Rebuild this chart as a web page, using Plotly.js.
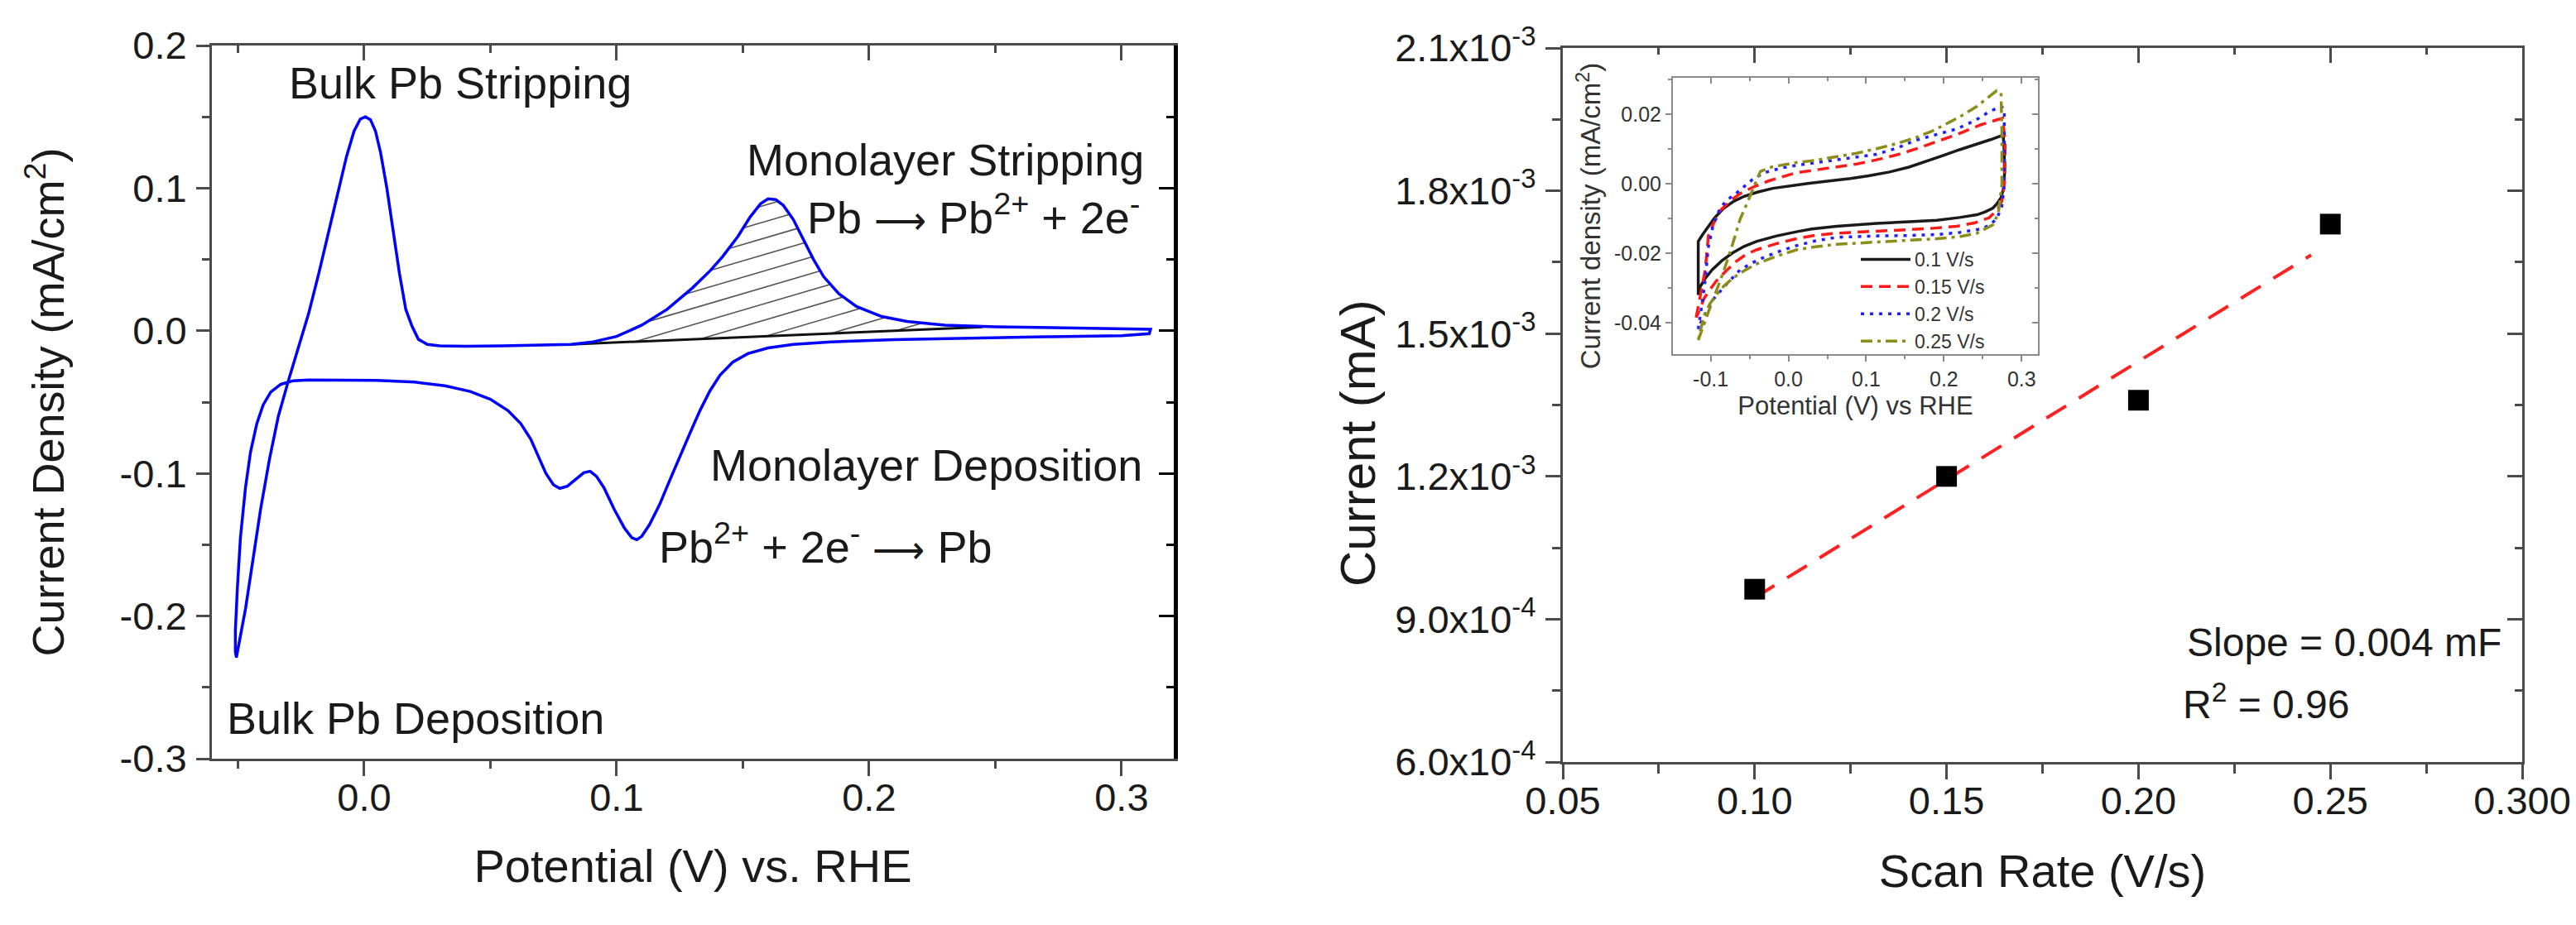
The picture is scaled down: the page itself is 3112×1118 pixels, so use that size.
<!DOCTYPE html>
<html><head><meta charset="utf-8">
<script src="https://cdn.plot.ly/plotly-3.0.1.min.js"></script>
<style>html,body{margin:0;padding:0;background:#fff}#chart{width:3112px;height:1118px}</style>
</head><body><div id="chart"></div><script>
const FONT = 'Liberation Sans, Arial, Helvetica, sans-serif';

// ---------- Left panel: CV of Pb UPD ----------
const cvPotential = [-0.0506,-0.0490,-0.0470,-0.0440,-0.0410,-0.0375,-0.0340,-0.0300,-0.0260,-0.0220,-0.0180,-0.0140,-0.0100,-0.0070,-0.0040,-0.0015,0.0005,0.0025,0.0045,0.0065,0.0090,0.0115,0.0140,0.0165,0.0190,0.0215,0.0250,0.0300,0.0400,0.0550,0.0700,0.0820,0.0900,0.1000,0.1100,0.1200,0.1300,0.1370,0.1420,0.1480,0.1530,0.1570,0.1600,0.1630,0.1660,0.1700,0.1740,0.1780,0.1820,0.1880,0.1950,0.2050,0.2150,0.2300,0.2500,0.2800,0.3000,0.3115,0.3110,0.3000,0.2700,0.2400,0.2100,0.1850,0.1700,0.1600,0.1520,0.1460,0.1410,0.1370,0.1330,0.1290,0.1250,0.1210,0.1170,0.1130,0.1100,0.1080,0.1060,0.1030,0.0990,0.0950,0.0920,0.0895,0.0870,0.0840,0.0805,0.0775,0.0750,0.0720,0.0690,0.0660,0.0620,0.0570,0.0500,0.0420,0.0320,0.0200,0.0050,-0.0100,-0.0220,-0.0280,-0.0330,-0.0370,-0.0400,-0.0425,-0.0450,-0.0470,-0.0490,-0.0502,-0.0510,-0.0510,-0.0506];
const cvCurrent = [-0.229,-0.215,-0.195,-0.160,-0.125,-0.090,-0.060,-0.035,-0.012,0.012,0.040,0.070,0.100,0.122,0.140,0.1485,0.150,0.148,0.140,0.125,0.100,0.070,0.040,0.015,0.003,-0.006,-0.0095,-0.0105,-0.0108,-0.0106,-0.0102,-0.0095,-0.0080,-0.0040,0.0040,0.0150,0.0300,0.0420,0.0520,0.0660,0.0800,0.0890,0.0925,0.0920,0.0880,0.0780,0.0640,0.0500,0.0380,0.0260,0.0170,0.0100,0.0065,0.0040,0.0028,0.0020,0.0018,0.0010,-0.0020,-0.0035,-0.0042,-0.0050,-0.0062,-0.0078,-0.0095,-0.0120,-0.0160,-0.0220,-0.0310,-0.0420,-0.0560,-0.0720,-0.0880,-0.1050,-0.1220,-0.1360,-0.1440,-0.1465,-0.1450,-0.1380,-0.1250,-0.1100,-0.1020,-0.0985,-0.0995,-0.1040,-0.1090,-0.1105,-0.1080,-0.1000,-0.0880,-0.0760,-0.0650,-0.0560,-0.0480,-0.0425,-0.0385,-0.0360,-0.0348,-0.0345,-0.0345,-0.0350,-0.0375,-0.0430,-0.0520,-0.0650,-0.0850,-0.1100,-0.1450,-0.1800,-0.2100,-0.2250,-0.229];
const baselinePotential = [0.082, 0.245];
const baselineCurrent = [-0.0095, 0.0026];

// ---------- Right panel: current vs scan rate ----------
const scanRates = [0.10, 0.15, 0.20, 0.25];
const currents = [9.63e-4, 1.20e-3, 1.36e-3, 1.73e-3];
const fitScanRates = [0.10, 0.245];
const fitCurrents = [9.45e-4, 1.665e-3];

// ---------- Inset: CVs at several scan rates ----------
const insetNames = ['0.1 V/s', '0.15 V/s', '0.2 V/s', '0.25 V/s'];
const cv010X = [-0.116,-0.116,-0.110,-0.103,-0.095,-0.083,-0.070,-0.057,-0.040,-0.020,0.000,0.025,0.052,0.080,0.103,0.130,0.155,0.180,0.200,0.220,0.243,0.260,0.2735,0.2765,0.2777,0.2780,0.2765,0.2735,0.268,0.263,0.253,0.2426,0.220,0.191,0.150,0.1135,0.062,0.030,0.0103,-0.015,-0.0413,-0.057,-0.072,-0.086,-0.098,-0.107,-0.1135,-0.116];
const cv010Y = [-0.032,-0.0166,-0.0145,-0.0122,-0.0098,-0.0070,-0.0050,-0.0036,-0.0024,-0.0013,-0.0006,0.0001,0.0008,0.0015,0.0023,0.0034,0.0048,0.0066,0.0082,0.0098,0.0114,0.0127,0.0138,0.0133,0.0090,0.0028,-0.0015,-0.0040,-0.0058,-0.0070,-0.0081,-0.0089,-0.0097,-0.0105,-0.0110,-0.0114,-0.0122,-0.0130,-0.0138,-0.0150,-0.0166,-0.0180,-0.0199,-0.0222,-0.0247,-0.0272,-0.0296,-0.032];
const cv015X = [-0.1187,-0.1135,-0.107,-0.103,-0.0955,-0.0877,-0.075,-0.062,-0.044,-0.0258,-0.0077,0.0103,0.036,0.062,0.0877,0.1135,0.139,0.165,0.191,0.2168,0.2477,0.268,0.2757,0.2787,0.2787,0.2777,0.2745,0.268,0.258,0.240,0.2168,0.180,0.139,0.100,0.062,0.035,0.0103,-0.015,-0.0413,-0.055,-0.067,-0.080,-0.093,-0.101,-0.108,-0.113,-0.116,-0.1187];
const cv015Y = [-0.0385,-0.0328,-0.0247,-0.0150,-0.0110,-0.0077,-0.0049,-0.0028,-0.0008,0.0008,0.0020,0.0032,0.0040,0.0049,0.0057,0.0069,0.0083,0.0101,0.0122,0.0142,0.0170,0.0184,0.0189,0.0120,0.0060,0.0000,-0.0050,-0.0077,-0.0098,-0.0112,-0.0122,-0.0129,-0.0134,-0.0138,-0.0142,-0.0148,-0.0158,-0.0172,-0.0190,-0.0204,-0.0223,-0.0250,-0.0280,-0.0305,-0.0328,-0.0355,-0.0369,-0.0385];
const cv020X = [-0.116,-0.112,-0.108,-0.1055,-0.103,-0.097,-0.0877,-0.078,-0.067,-0.0465,-0.031,-0.010,0.0103,0.036,0.062,0.0877,0.1135,0.140,0.165,0.191,0.2168,0.240,0.258,0.2735,0.2777,0.2777,0.2780,0.2777,0.2745,0.268,0.258,0.2477,0.220,0.191,0.150,0.1135,0.062,0.035,0.0103,-0.010,-0.031,-0.047,-0.062,-0.0826,-0.098,-0.108,-0.113,-0.116];
const cv020Y = [-0.0418,-0.0360,-0.0296,-0.0240,-0.0182,-0.0120,-0.0069,-0.0045,-0.0027,0.0012,0.0032,0.0045,0.0053,0.0061,0.0069,0.0076,0.0085,0.0103,0.0126,0.0142,0.0158,0.0182,0.0207,0.0223,0.0215,0.0150,0.0060,-0.0004,-0.0065,-0.0101,-0.0120,-0.0130,-0.0140,-0.0146,-0.0149,-0.0150,-0.0154,-0.0164,-0.0178,-0.0193,-0.0211,-0.0228,-0.0247,-0.0296,-0.0336,-0.0377,-0.0400,-0.0418];
const cv025X = [-0.116,-0.110,-0.103,-0.093,-0.0826,-0.072,-0.062,-0.054,-0.0465,-0.040,-0.036,-0.0206,0.0103,0.036,0.062,0.0877,0.1135,0.140,0.165,0.185,0.201,0.220,0.2426,0.258,0.268,0.2735,0.2746,0.2746,0.2746,0.270,0.263,0.2426,0.220,0.191,0.150,0.1135,0.062,0.035,0.0103,-0.015,-0.0413,-0.057,-0.072,-0.083,-0.093,-0.101,-0.108,-0.113,-0.116];
const cv025Y = [-0.0450,-0.0410,-0.0369,-0.0310,-0.0247,-0.0175,-0.0101,-0.0060,-0.0020,0.0015,0.0036,0.0049,0.0061,0.0068,0.0077,0.0088,0.0101,0.0116,0.0134,0.0152,0.0170,0.0192,0.0223,0.0250,0.0268,0.0262,0.0150,0.0050,-0.0004,-0.0085,-0.0118,-0.0142,-0.0152,-0.0158,-0.0163,-0.0166,-0.0174,-0.0181,-0.0190,-0.0208,-0.0231,-0.0250,-0.0272,-0.0294,-0.0320,-0.0345,-0.0377,-0.0420,-0.0450];

// ---------- Tick values / labels ----------
const leftXTicks = [0.0, 0.1, 0.2, 0.3];
const leftXTickText = ['0.0', '0.1', '0.2', '0.3'];
const leftXMinor = [-0.05, 0.05, 0.15, 0.25];
const leftYTicks = [-0.3, -0.2, -0.1, 0.0, 0.1, 0.2];
const leftYTickText = ['-0.3', '-0.2', '-0.1', '0.0', '0.1', '0.2'];
const leftYMinor = [-0.25, -0.15, -0.05, 0.05, 0.15];
const rightXTicks = [0.05, 0.10, 0.15, 0.20, 0.25, 0.30];
const rightXTickText = ['0.05', '0.10', '0.15', '0.20', '0.25', '0.300'];
const rightXMinor = [0.075, 0.125, 0.175, 0.225, 0.275];
const rightYTicks = [6.0e-4, 9.0e-4, 1.2e-3, 1.5e-3, 1.8e-3, 2.1e-3];
const rightYTickText = ['6.0x10<sup>-4</sup>', '9.0x10<sup>-4</sup>', '1.2x10<sup>-3</sup>', '1.5x10<sup>-3</sup>', '1.8x10<sup>-3</sup>', '2.1x10<sup>-3</sup>'];
const rightYMinor = [7.5e-4, 1.05e-3, 1.35e-3, 1.65e-3, 1.95e-3];
const insetXTicks = [-0.1, 0.0, 0.1, 0.2, 0.3];
const insetXTickText = ['-0.1', '0.0', '0.1', '0.2', '0.3'];
const insetXMinor = [-0.15, -0.05, 0.05, 0.15, 0.25];
const insetYTicks = [-0.04, -0.02, 0.00, 0.02];
const insetYTickText = ['-0.04', '-0.02', '0.00', '0.02'];
const insetYMinor = [-0.03, -0.01, 0.01, 0.03];

// ---------- Hatching of the monolayer stripping charge (derived from the curves) ----------
function buildHatch() {
  const peakIdx = cvCurrent.indexOf(Math.max(...cvCurrent));
  const vertexIdx = cvPotential.indexOf(Math.max(...cvPotential));
  const ux = [], uy = [];
  for (let i = peakIdx; i <= vertexIdx; i++) {
    if (cvPotential[i] >= 0.07) { ux.push(cvPotential[i]); uy.push(cvCurrent[i]); }
  }
  const upper = x => {
    for (let i = 0; i < ux.length - 1; i++) {
      if (x >= ux[i] && x <= ux[i + 1]) return uy[i] + (uy[i + 1] - uy[i]) * (x - ux[i]) / (ux[i + 1] - ux[i]);
    }
    return NaN;
  };
  const x0 = baselinePotential[0], x1 = baselinePotential[1];
  const base = x => baselineCurrent[0] + (baselineCurrent[1] - baselineCurrent[0]) * (x - x0) / (x1 - x0);
  const slope = 0.52, gap = 0.0115;
  const hx = [], hy = [];
  for (let c = -0.121; c < 0.02; c += gap) {
    let start = null, last = null;
    for (let x = x0; x <= x1 + 1e-9; x += 0.0002) {
      const y = slope * x + c;
      const inside = y >= base(x) && y <= upper(x);
      if (inside) { if (start === null) start = x; last = x; }
      if ((!inside || x + 0.0002 > x1) && start !== null) {
        hx.push(start, last, null); hy.push(slope * start + c, slope * last + c, null);
        start = null;
      }
    }
  }
  return { x: hx, y: hy };
}
const hatch = buildHatch();

// ---------- Styles ----------
const AX = '#4a4a4a';
const IN = '#8a8a8a';
const tickFont = { family: FONT, size: 47, color: '#1a1a1a' };
const insetTickFont = { family: FONT, size: 25, color: '#333' };

const leftDomX = [256 / 3112, 1418 / 3112], leftDomY = [1 - 917 / 1118, 1 - 55 / 1118];
const rightDomX = [1888 / 3112, 3047 / 3112], rightDomY = [1 - 921 / 1118, 1 - 58 / 1118];
const insetDomX = [2021 / 3112, 2462 / 3112], insetDomY = [1 - 428 / 1118, 1 - 94 / 1118];
const leftRX = [-0.0603, 0.3207], leftRY = [-0.3, 0.2];
const rightRX = [0.05, 0.30], rightRY = [6.0e-4, 2.1e-3];
const insetRX = [-0.1486, 0.321], insetRY = [-0.049, 0.0305];

function mainAxis(o) {
  return Object.assign({
    showline: true, linecolor: AX, linewidth: 3, mirror: false,
    ticks: 'outside', ticklen: 18, tickwidth: 3, tickcolor: AX,
    tickmode: 'array', tickfont: tickFont, showgrid: false, zeroline: false,
    ticklabelstandoff: 2, fixedrange: true
  }, o);
}
function mirrorAxis(o, minorVals, len, mlen, color, width) {
  return Object.assign({
    showline: true, linecolor: color, linewidth: width,
    ticks: 'inside', ticklen: len, tickwidth: width >= 3 ? 3 : 2, tickcolor: color,
    tickmode: 'array', showticklabels: false, showgrid: false, zeroline: false, fixedrange: true,
    minor: { tickmode: 'array', tickvals: minorVals, ticks: 'inside', ticklen: mlen, tickwidth: width >= 3 ? 3 : 2, tickcolor: color }
  }, o);
}

const traces = [
  { type: 'scatter', mode: 'lines', x: hatch.x, y: hatch.y, xaxis: 'x', yaxis: 'y',
    line: { color: '#555', width: 1.6 }, connectgaps: false, showlegend: false, hoverinfo: 'skip' },
  { type: 'scatter', mode: 'lines', x: baselinePotential, y: baselineCurrent, xaxis: 'x', yaxis: 'y',
    line: { color: '#111', width: 3 }, showlegend: false },
  { type: 'scatter', mode: 'lines', x: cvPotential, y: cvCurrent, xaxis: 'x', yaxis: 'y',
    line: { color: '#0000ff', width: 3.5 }, showlegend: false },

  { type: 'scatter', mode: 'lines', x: fitScanRates, y: fitCurrents, xaxis: 'x2', yaxis: 'y2',
    line: { color: '#ff2020', width: 4, dash: '28px,18px' }, showlegend: false },
  { type: 'scatter', mode: 'markers', x: scanRates, y: currents, xaxis: 'x2', yaxis: 'y2',
    marker: { symbol: 'square', size: 25, color: '#000' }, showlegend: false },

  { type: 'scatter', mode: 'lines', name: insetNames[0], x: cv010X, y: cv010Y, xaxis: 'x3', yaxis: 'y3',
    line: { color: '#1a1a1a', width: 3.5 } },
  { type: 'scatter', mode: 'lines', name: insetNames[1], x: cv015X, y: cv015Y, xaxis: 'x3', yaxis: 'y3',
    line: { color: '#ff1a1a', width: 3.5, dash: '14px,8px' } },
  { type: 'scatter', mode: 'lines', name: insetNames[2], x: cv020X, y: cv020Y, xaxis: 'x3', yaxis: 'y3',
    line: { color: '#2020ff', width: 3.5, dash: '4px,7px' } },
  { type: 'scatter', mode: 'lines', name: insetNames[3], x: cv025X, y: cv025Y, xaxis: 'x3', yaxis: 'y3',
    line: { color: '#8c8c1a', width: 3.5, dash: '14px,6px,4px,6px' } },

  { type: 'scatter', x: [null], y: [null], xaxis: 'x4', yaxis: 'y4', showlegend: false, hoverinfo: 'skip' },
  { type: 'scatter', x: [null], y: [null], xaxis: 'x5', yaxis: 'y5', showlegend: false, hoverinfo: 'skip' },
  { type: 'scatter', x: [null], y: [null], xaxis: 'x6', yaxis: 'y6', showlegend: false, hoverinfo: 'skip' }
];

const annFont = { family: FONT, size: 54, color: '#1a1a1a' };
const ARROW = '<span style="font-size:44px">\u27F6</span>';
const layout = {
  width: 3112, height: 1118,
  margin: { l: 0, r: 0, t: 0, b: 0 },
  paper_bgcolor: '#ffffff', plot_bgcolor: 'rgba(0,0,0,0)',
  font: { family: FONT, color: '#1a1a1a' },
  showlegend: true,
  legend: { x: 2243 / 3112, y: 1 - 292 / 1118, xanchor: 'left', yanchor: 'top',
    bgcolor: 'rgba(0,0,0,0)', font: { family: FONT, size: 23, color: '#333' },
    itemwidth: 60, tracegroupgap: 0 },

  xaxis: mainAxis({ domain: leftDomX, range: leftRX, anchor: 'y',
    tickvals: leftXTicks, ticktext: leftXTickText, ticklabelstandoff: -14,
    minor: { tickmode: 'array', tickvals: leftXMinor, ticks: 'outside', ticklen: 9, tickwidth: 3, tickcolor: AX },
    title: { text: 'Potential (V) vs. RHE', font: { family: FONT, size: 56, color: '#1a1a1a' }, standoff: 38 } }),
  yaxis: mainAxis({ domain: leftDomY, range: leftRY, anchor: 'x',
    tickvals: leftYTicks, ticktext: leftYTickText, ticklen: 16,
    minor: { tickmode: 'array', tickvals: leftYMinor, ticks: 'outside', ticklen: 9, tickwidth: 3, tickcolor: AX },
    title: { text: 'Current Density (mA/cm<sup>2</sup>)', font: { family: FONT, size: 54, color: '#1a1a1a' }, standoff: 50 } }),
  xaxis4: mirrorAxis({ overlaying: 'x', side: 'top', anchor: 'y4', range: leftRX, tickvals: leftXTicks }, leftXMinor, 18, 9, AX, 3),
  yaxis4: mirrorAxis({ overlaying: 'y', side: 'right', anchor: 'x4', range: leftRY, tickvals: leftYTicks }, leftYMinor, 18, 9, '#000', 5),

  xaxis2: mainAxis({ domain: rightDomX, range: rightRX, anchor: 'y2',
    tickvals: rightXTicks, ticktext: rightXTickText, ticklabelstandoff: -14,
    minor: { tickmode: 'array', tickvals: rightXMinor, ticks: 'outside', ticklen: 11, tickwidth: 3, tickcolor: AX },
    title: { text: 'Scan Rate (V/s)', font: { family: FONT, size: 56, color: '#1a1a1a' }, standoff: 40 } }),
  yaxis2: mainAxis({ domain: rightDomY, range: rightRY, anchor: 'x2',
    tickvals: rightYTicks, ticktext: rightYTickText,
    minor: { tickmode: 'array', tickvals: rightYMinor, ticks: 'outside', ticklen: 10, tickwidth: 3, tickcolor: AX } }),
  xaxis5: mirrorAxis({ overlaying: 'x2', side: 'top', anchor: 'y5', range: rightRX, tickvals: rightXTicks }, rightXMinor, 18, 8, AX, 3),
  yaxis5: mirrorAxis({ overlaying: 'y2', side: 'right', anchor: 'x5', range: rightRY, tickvals: rightYTicks }, rightYMinor, 18, 9, AX, 3),

  xaxis3: { domain: insetDomX, range: insetRX, anchor: 'y3', showline: true, linecolor: IN, linewidth: 2,
    ticks: 'outside', ticklen: 7, tickwidth: 2, tickcolor: IN, tickmode: 'array',
    tickvals: insetXTicks, ticktext: insetXTickText, tickfont: insetTickFont, showgrid: false, zeroline: false, fixedrange: true,
    minor: { tickmode: 'array', tickvals: insetXMinor, ticks: 'outside', ticklen: 4, tickwidth: 2, tickcolor: IN },
    title: { text: 'Potential (V) vs RHE', font: { family: FONT, size: 31, color: '#333' }, standoff: 8 } },
  yaxis3: { domain: insetDomY, range: insetRY, anchor: 'x3', showline: true, linecolor: IN, linewidth: 2,
    ticks: 'outside', ticklen: 7, tickwidth: 2, tickcolor: IN, tickmode: 'array',
    tickvals: insetYTicks, ticktext: insetYTickText, tickfont: insetTickFont, showgrid: false, zeroline: false, fixedrange: true,
    minor: { tickmode: 'array', tickvals: insetYMinor, ticks: 'outside', ticklen: 4, tickwidth: 2, tickcolor: IN },
    title: { text: 'Current density (mA/cm<sup>2</sup>)', font: { family: FONT, size: 33, color: '#333' }, standoff: 6 } },
  xaxis6: mirrorAxis({ overlaying: 'x3', side: 'top', anchor: 'y6', range: insetRX, tickvals: insetXTicks }, insetXMinor, 7, 4, IN, 2),
  yaxis6: mirrorAxis({ overlaying: 'y3', side: 'right', anchor: 'x6', range: insetRY, tickvals: insetYTicks }, insetYMinor, 7, 4, IN, 2),

  annotations: [
    { xref: 'paper', yref: 'paper', x: 1640 / 3112, y: 1 - 536 / 1118, xanchor: 'center', yanchor: 'middle', textangle: -90, showarrow: false,
      text: 'Current (mA)', font: { family: FONT, size: 60, color: '#1a1a1a' } },
    { xref: 'x', yref: 'y', x: -0.0305, y: 0.174, xanchor: 'left', yanchor: 'middle', showarrow: false, text: 'Bulk Pb Stripping', font: annFont },
    { xref: 'x', yref: 'y', x: 0.3095, y: 0.1202, xanchor: 'right', yanchor: 'middle', showarrow: false, text: 'Monolayer Stripping', font: annFont },
    { xref: 'x', yref: 'y', x: 0.308, y: 0.0815, xanchor: 'right', yanchor: 'middle', showarrow: false, text: 'Pb ' + ARROW + ' Pb<sup>2+</sup> + 2e<sup>-</sup>', font: annFont },
    { xref: 'x', yref: 'y', x: 0.309, y: -0.094, xanchor: 'right', yanchor: 'middle', showarrow: false, text: 'Monolayer Deposition', font: annFont },
    { xref: 'x', yref: 'y', x: 0.116, y: -0.149, xanchor: 'left', yanchor: 'middle', showarrow: false, text: 'Pb<sup>2+</sup> + 2e<sup>-</sup> ' + ARROW + ' Pb', font: annFont },
    { xref: 'x', yref: 'y', x: -0.055, y: -0.2713, xanchor: 'left', yanchor: 'middle', showarrow: false, text: 'Bulk Pb Deposition', font: annFont },
    { xref: 'x2', yref: 'y2', x: 0.2122, y: 8.52e-4, xanchor: 'left', yanchor: 'middle', showarrow: false, text: 'Slope = 0.004 mF', font: { family: FONT, size: 48, color: '#1a1a1a' } },
    { xref: 'x2', yref: 'y2', x: 0.2111, y: 7.27e-4, xanchor: 'left', yanchor: 'middle', showarrow: false, text: 'R<sup>2</sup> = 0.96', font: { family: FONT, size: 48, color: '#1a1a1a' } }
  ]
};

Plotly.newPlot('chart', traces, layout, { displayModeBar: false, staticPlot: true });
</script></body></html>
